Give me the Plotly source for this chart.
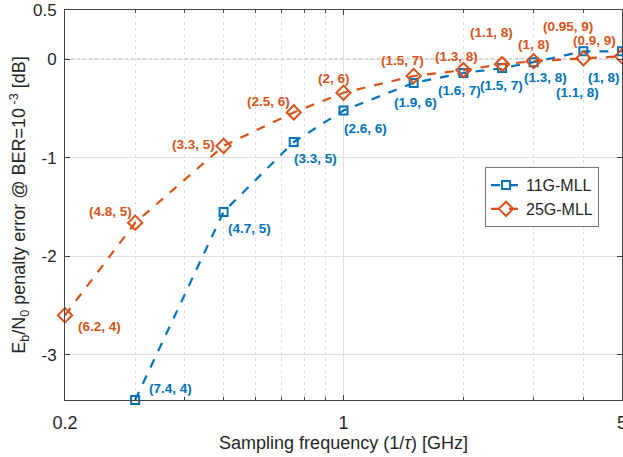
import math
import plotly.graph_objects as go

# ---------------- data ----------------
freq_11g = [0.3, 0.5, 0.75, 1.0, 1.5, 2.0, 2.5, 3.0, 4.0, 5.0]
pen_11g = [-3.46, -1.55, -0.84, -0.52, -0.24, -0.14, -0.09, -0.03, 0.08, 0.08]
lab_11g = ["(7.4, 4)", "(4.7, 5)", "(3.3, 5)", "(2.6, 6)", "(1.9, 6)", "(1.6, 7)",
           "(1.5, 7)", "(1.3, 8)", "(1.1, 8)", "(1, 8)"]

freq_25g = [0.2, 0.3, 0.5, 0.75, 1.0, 1.5, 2.0, 2.5, 3.0, 4.0, 5.0]
pen_25g = [-2.60, -1.66, -0.88, -0.54, -0.34, -0.17, -0.11, -0.05, -0.02, 0.01, 0.03]
lab_25g = ["(6.2, 4)", "(4.8, 5)", "(3.3, 5)", "(2.5, 6)", "(2, 6)", "(1.5, 7)",
           "(1.3, 8)", "(1.1, 8)", "(1, 8)", "(0.95, 9)", "(0.9, 9)"]

x_ticks = [0.2, 1, 5]
x_tick_text = ["0.2", "1", "5"]
x_minor = [0.3, 0.4, 0.5, 0.6, 0.7, 0.8, 0.9, 2, 3, 4]
y_ticks = [-3, -2, -1, 0, 0.5]
y_tick_text = ["-3", "-2", "-1", "0", "0.5"]

# label offsets in pixels (dx right, dy down) – layout only
off_11g = [(35, -12), (26, 17), (22, 17), (22, 18), (2, 20), (-4, 17), (-1, 17),
           (12, 15), (-6, 41), (-18, 26)]
off_25g = [(34, 11), (-25, -11), (-30, -1), (-25, -11), (-10, -14), (-11, -15),
           (-7, -14), (-11, -32), (0, -17), (-15, -32), (-28, -16)]

BLUE = "#0072BD"
ORANGE = "#D95319"
FONT = "Liberation Sans, Arial, sans-serif"

fig = go.Figure()
fig.add_trace(go.Scatter(
    x=freq_11g, y=pen_11g, name="11G-MLL", mode="lines+markers",
    line=dict(color=BLUE, width=2.2, dash="dash"),
    marker=dict(symbol="square-open", size=8, color=BLUE, line=dict(width=2)),
    cliponaxis=False,
))
fig.add_trace(go.Scatter(
    x=freq_25g, y=pen_25g, name="25G-MLL", mode="lines+markers",
    line=dict(color=ORANGE, width=2.2, dash="dash"),
    marker=dict(symbol="diamond-open", size=11, color=ORANGE, line=dict(width=2)),
    cliponaxis=False,
))

anns = []
for xs, ys, labs, offs, col in [(freq_11g, pen_11g, lab_11g, off_11g, BLUE),
                                (freq_25g, pen_25g, lab_25g, off_25g, ORANGE)]:
    for xv, yv, t, (dx, dy) in zip(xs, ys, labs, offs):
        anns.append(dict(
            x=math.log10(xv), y=yv, xref="x", yref="y", text="<b>%s</b>" % t,
            showarrow=False, xshift=dx, yshift=-dy,
            font=dict(family=FONT, size=13.5, color=col),
        ))

fig.update_layout(
    width=623, height=457,
    margin=dict(l=65, r=1, t=10, b=57, autoexpand=False),
    paper_bgcolor="white", plot_bgcolor="white",
    font=dict(family=FONT, color="#262626"),
    showlegend=True,
    legend=dict(
        x=0.754, y=0.597, xanchor="left", yanchor="top",
        bgcolor="white", bordercolor="#777777", borderwidth=1,
        font=dict(family=FONT, size=16, color="#262626"),
        tracegroupgap=0, itemwidth=30,
    ),
    annotations=anns,
    shapes=[dict(type="line", xref="paper", x0=0, x1=1, yref="y", y0=0, y1=0,
                 line=dict(color="#333333", width=1.2, dash="dot"), layer="below")],
)

fig.update_xaxes(
    type="log", range=[math.log10(0.2) - 1e-6, math.log10(5) + 1e-6],
    automargin=False,
    tickvals=x_ticks, ticktext=x_tick_text,
    tickfont=dict(size=18, color="#262626"),
    ticks="inside", ticklen=5, tickcolor="#444444",
    showline=True, linecolor="#444444", linewidth=1, mirror="ticks",
    showgrid=True, gridcolor="#dedede", gridwidth=1,
    minor=dict(tickvals=x_minor, ticks="inside", ticklen=3, tickcolor="#444444",
               showgrid=True, gridcolor="#dcdcdc", griddash="dot", gridwidth=1),
    title=dict(text="Sampling frequency (1/<i>τ</i>) [GHz]", font=dict(size=18, color="#262626"),
               standoff=4),
    ticklabelstandoff=6,
    ticklabeloverflow="allow",
    zeroline=False,
)
fig.update_yaxes(
    range=[-3.46, 0.5],
    automargin=False,
    tickvals=y_ticks, ticktext=y_tick_text,
    tickfont=dict(size=17, color="#262626"),
    ticks="inside", ticklen=5, tickcolor="#444444",
    showline=True, linecolor="#444444", linewidth=1, mirror="ticks",
    showgrid=True, gridcolor="#dedede", gridwidth=1,
    title=dict(text="E<sub>b</sub>/N<sub>0</sub> penalty error @ BER=10<sup> -3</sup> [dB]",
               font=dict(size=18, color="#262626"), standoff=2),
    ticklabelstandoff=4,
    zeroline=False,
)

fig.write_html("out.html", config={"displayModeBar": False},
               post_script="document.body.style.margin='0';")
